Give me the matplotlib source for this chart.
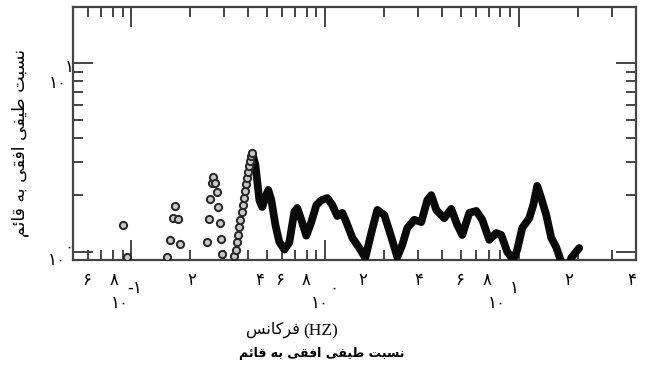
import numpy as np
import matplotlib.pyplot as plt
import matplotlib.ticker as ticker

# --- data (frequency in Hz, H/V ratio) ---
# isolated markers on the low-frequency side
freq_pts = [0.090, 0.095,
            0.153, 0.158, 0.163, 0.168, 0.173, 0.178,
            0.245, 0.250, 0.255, 0.260, 0.265, 0.270, 0.275, 0.280, 0.285, 0.290, 0.295]
hv_pts = [1.39, 0.94,
          0.94, 1.16, 1.51, 1.75, 1.50, 1.10,
          1.13, 1.50, 1.91, 2.32, 2.49, 2.32, 2.08, 1.73, 1.42, 1.17, 0.98]

# rising flank of the first peak (still separate markers)
freq_flank = [0.340, 0.345, 0.350, 0.355, 0.360, 0.365, 0.370, 0.375, 0.380,
              0.385, 0.390, 0.395, 0.400, 0.405, 0.410, 0.415, 0.420]
hv_flank = [0.95, 1.03, 1.13, 1.23, 1.36, 1.48, 1.63, 1.77, 1.93,
            2.10, 2.29, 2.46, 2.65, 2.85, 3.03, 3.22, 3.34]

# dense part of the curve (markers merge into a thick line)
freq_line = [0.420, 0.436, 0.457, 0.473, 0.491, 0.508, 0.527, 0.553, 0.579, 0.615,
             0.652, 0.692, 0.717, 0.752, 0.798, 0.847, 0.899, 0.954, 1.024, 1.087,
             1.153, 1.224, 1.283, 1.378, 1.497, 1.608, 1.726, 1.854, 2.014, 2.189,
             2.350, 2.494, 2.647, 2.876, 3.125, 3.356, 3.519, 3.734, 4.106, 4.462,
             4.791, 5.084, 5.525, 6.003, 6.447, 7.005, 7.610, 8.078, 8.676, 9.314,
             9.765, 10.36, 11.26, 11.81, 12.38, 12.98, 13.78, 14.62, 15.51, 16.47,
             17.47, 18.54, 20.39]
hv_line = [3.34, 2.89, 1.88, 1.73, 1.95, 2.13, 1.88, 1.39, 1.13, 1.03,
           1.12, 1.63, 1.71, 1.48, 1.22, 1.44, 1.77, 1.88, 1.93, 1.77,
           1.55, 1.61, 1.44, 1.19, 1.05, 0.93, 1.26, 1.67, 1.57, 1.20,
           0.94, 1.09, 1.34, 1.48, 1.44, 1.88, 2.00, 1.67, 1.51, 1.69,
           1.39, 1.23, 1.61, 1.65, 1.48, 1.16, 1.26, 1.23, 1.00, 0.91,
           1.03, 1.34, 1.51, 1.77, 2.24, 1.93, 1.57, 1.19, 1.06, 0.885,
           0.76, 0.93, 1.05]

# tick labels as they appear (Persian digits) and where they sit along x
xlab_top = ['۶', '۸', '۲', '۴', '۶', '۸', '۲', '۴', '۶', '۸', '۲', '۴']
xlab_top_f = [0.0586, 0.0817, 0.206, 0.457, 0.579, 0.798, 1.552, 3.05, 4.91, 6.84, 18.1, 38.2]
xlab_dec_f = [0.0867, 0.931, 7.61]
xlab_exp = ['-۱', '۰', '۱']
xlab_exp_f = [0.1035, 1.11, 9.42]


FORMS = {  # isolated, final, initial, medial
    'ا': ('\uFE8D', '\uFE8E', None, None),
    'ب': ('\uFE8F', '\uFE90', '\uFE91', '\uFE92'),
    'ت': ('\uFE95', '\uFE96', '\uFE97', '\uFE98'),
    'ر': ('\uFEAD', '\uFEAE', None, None),
    'س': ('\uFEB1', '\uFEB2', '\uFEB3', '\uFEB4'),
    'ط': ('\uFEC1', '\uFEC2', '\uFEC3', '\uFEC4'),
    'ف': ('\uFED1', '\uFED2', '\uFED3', '\uFED4'),
    'ق': ('\uFED5', '\uFED6', '\uFED7', '\uFED8'),
    'م': ('\uFEE1', '\uFEE2', '\uFEE3', '\uFEE4'),
    'ن': ('\uFEE5', '\uFEE6', '\uFEE7', '\uFEE8'),
    'ه': ('\uFEE9', '\uFEEA', '\uFEEB', '\uFEEC'),
    'ئ': ('\uFE89', '\uFE8A', '\uFE8B', '\uFE8C'),
    'ی': ('\uFBFC', '\uFBFD', '\uFBFE', '\uFBFF'),
    'ک': ('\uFB8E', '\uFB8F', '\uFB90', '\uFB91'),
}


def fa(text):
    """joins persian letters and flips them to visual order (matplotlib has no shaping)"""
    out = []
    for i, ch in enumerate(text):
        if ch not in FORMS:
            out.append(ch)
            continue
        prev = text[i - 1] if i > 0 else ''
        nxt = text[i + 1] if i + 1 < len(text) else ''
        join_prev = prev in FORMS and FORMS[prev][2] is not None
        join_next = nxt in FORMS and FORMS[ch][2] is not None
        iso, fin, ini, med = FORMS[ch]
        if join_prev and join_next:
            out.append(med)
        elif join_prev:
            out.append(fin)
        elif join_next:
            out.append(ini)
        else:
            out.append(iso)
    return ''.join(reversed(out))


W, H = 659, 383
fig = plt.figure(figsize=(W / 100, H / 100), dpi=100)
ax = fig.add_axes([73 / W, 1 - 260 / H, 563 / W, 253 / H])

ax.plot(freq_line, hv_line, '-', color='#0a0a0a', lw=5.6, solid_joinstyle='round',
        solid_capstyle='round', zorder=3)
ax.plot(freq_flank, hv_flank, 'o', ms=5.2, mfc='#c8c8c8', mec='#262626', mew=1.4, zorder=4)
ax.plot(freq_pts, hv_pts, 'o', ms=5.2, mfc='#c8c8c8', mec='#262626', mew=1.4, zorder=4)

ax.set_xscale('log')
ax.set_yscale('log')
ax.set_xlim(0.05, 40)
ax.set_ylim(0.907, 19.8)

for axis in (ax.xaxis, ax.yaxis):
    axis.set_major_locator(ticker.LogLocator(base=10, numticks=10))
    axis.set_minor_locator(ticker.LogLocator(base=10, subs=np.arange(2, 10), numticks=20))
    axis.set_major_formatter(ticker.NullFormatter())
    axis.set_minor_formatter(ticker.NullFormatter())

ax.tick_params(which='both', direction='in', top=True, right=True, color='#444444', width=1.4)
ax.tick_params(which='major', length=14.5)
ax.tick_params(which='minor', length=7)
for sp in ax.spines.values():
    sp.set_linewidth(1.6)
    sp.set_color('#444444')

# x tick labels
xt = ax.get_xaxis_transform()
for lab, f in zip(xlab_top, xlab_top_f):
    ax.text(f, -0.079, lab, transform=xt, ha='center', va='center', fontsize=12)
for f in xlab_dec_f:
    ax.text(f, -0.170, '۱۰', transform=xt, ha='center', va='center', fontsize=12)
for lab, f in zip(xlab_exp, xlab_exp_f):
    ax.text(f, -0.111, lab, transform=xt, ha='center', va='center', fontsize=12)

# y tick labels
fig.text(58 / W, 1 - 83 / H, '۱۰', ha='center', va='center', fontsize=12)
fig.text(69 / W, 1 - 67 / H, '۱', ha='center', va='center', fontsize=12)
fig.text(57 / W, 1 - 260 / H, '۱۰', ha='center', va='center', fontsize=12)
fig.text(69 / W, 1 - 247 / H, '۰', ha='center', va='center', fontsize=12)

fig.text(20 / W, 1 - 143 / H, fa('نسبت طیفی افقی به قائم'), rotation=90,
         ha='center', va='center', fontsize=12.5)
fig.text(300 / W, 1 - 330 / H, fa('فرکانس'), ha='right', va='center', fontsize=11.5)
fig.text(303 / W, 1 - 331 / H, '(HZ)', ha='left', va='center', fontsize=12.5,
         family='Liberation Serif')
fig.text(322 / W, 1 - 353 / H, fa('نسبت طیفی افقی به قائم'), ha='center', va='center',
         fontsize=9, fontweight='bold')

fig.savefig('out.png', dpi=100)
